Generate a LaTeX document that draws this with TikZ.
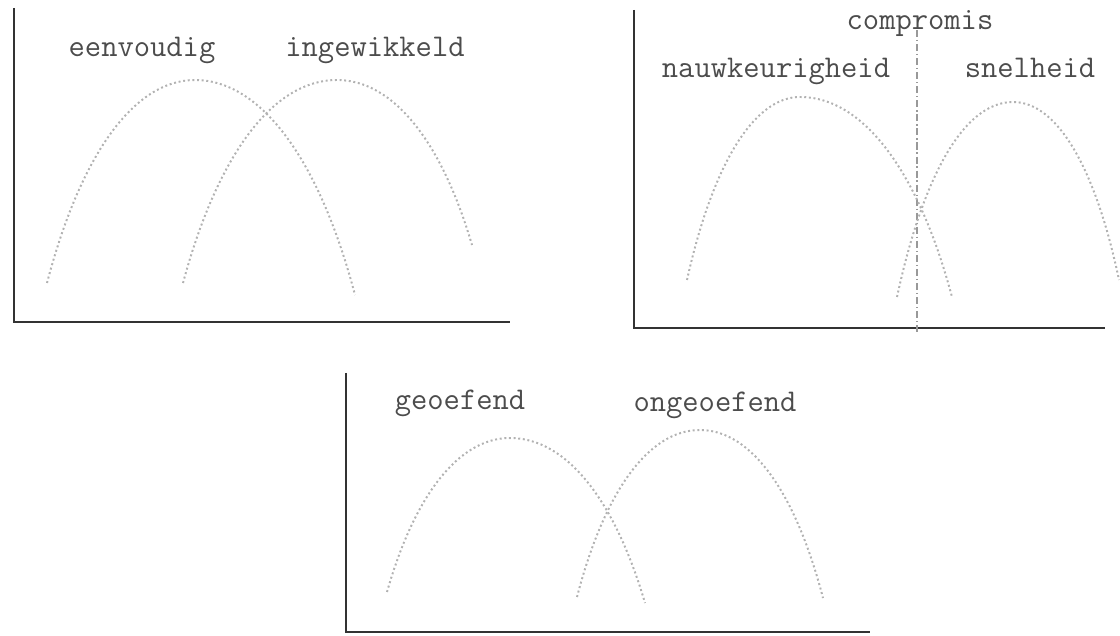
\documentclass[tikz,border=0pt]{standalone}

\begin{document}
\begin{tikzpicture}[x=0.025cm,y=-0.025cm,
    axis/.style={line width=1.1pt, black!80},
    curve/.style={line width=1.4pt, gray!60, dash pattern=on 1.4pt off 1.9pt},
    midline/.style={line width=0.9pt, gray!80, dash pattern=on 5pt off 2pt on 1pt off 2pt},
    lbl/.style={anchor=base, inner sep=0pt, text=black!70, font=\ttfamily\fontsize{22.5}{26}\selectfont}]
    \useasboundingbox (0,0) rectangle (1120,636);

    % eenvoudig / ingewikkeld
    \draw[axis] (14,8) -- (14,322) -- (510,322);
    \draw[curve] (47,283) .. controls (80,157) and (133,80) .. (195,80)
                          .. controls (262,80) and (320,162) .. (355,295);
    \draw[curve] (183,283) .. controls (217,157) and (272,80) .. (337,80)
                           .. controls (394,80) and (442,143) .. (472,245);
    \node[lbl] (eenvoudig) at (142,57) {eenvoudig};
    \node[lbl] (ingewikkeld) at (375,57) {ingewikkeld};

    % nauwkeurigheid / snelheid
    \draw[axis] (634,10) -- (634,328) -- (1105,328);
    \draw[midline] (917,30) -- (917,332);
    \draw[curve] (687,280) .. controls (712,167) and (753,97) .. (800,97)
                           .. controls (864,97) and (919,173) .. (952,297);
    \draw[curve] (897,297) .. controls (923,176) and (964,102) .. (1013,102)
                           .. controls (1058,102) and (1096,170) .. (1119,280);
    \node[lbl] (compromis) at (920,30) {compromis};
    \node[lbl] (nauwkeurigheid) at (776,78) {nauwkeurigheid};
    \node[lbl] (snelheid) at (1030,78) {snelheid};

    % geoefend / ongeoefend
    \draw[axis] (346,373) -- (346,632) -- (870,632);
    \draw[curve] (387,592) .. controls (414,497) and (458,438) .. (510,438)
                           .. controls (567,438) and (615,501) .. (645,603);
    \draw[curve] (577,597) .. controls (604,493) and (648,430) .. (700,430)
                           .. controls (752,430) and (796,494) .. (823,598);
    \node[lbl] (geoefend) at (460,410) {geoefend};
    \node[lbl] (ongeoefend) at (715,412) {ongeoefend};
\end{tikzpicture}
\end{document}
